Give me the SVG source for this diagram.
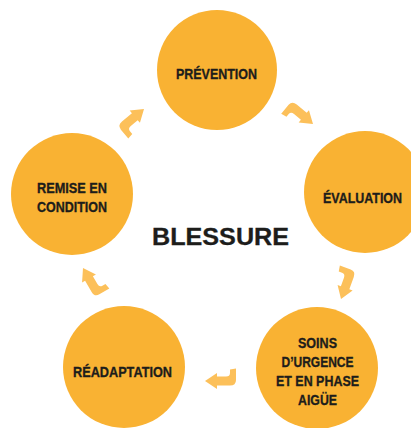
<svg xmlns="http://www.w3.org/2000/svg" width="411" height="428" viewBox="0 0 411 428">
<style>
.node circle { fill: #F9B233; }
.lbl { font-family: "Liberation Sans", Arial, sans-serif; font-weight: bold; font-size: 15.5px; fill: #1d1d1b; stroke: #1d1d1b; stroke-width: 0.35; text-anchor: middle; }
.title { font-family: "Liberation Sans", Arial, sans-serif; font-weight: bold; font-size: 23px; fill: #1d1d1b; stroke: #1d1d1b; stroke-width: 0.3; text-anchor: middle; }
.arrow { fill: #FCC05A; }
</style>
<defs>
<path id="arr" d="M0,0 L12,-8 L12,-4.5 L21,-4.5 Q25,-4.5 25,-8 L25,-11.5 L31,-12.5 L31,-1 Q31,4.5 25,4.5 L12,4.5 L12,8 Z"/>
</defs>
<rect width="411" height="428" fill="#ffffff"/>
<g id="connectors">
<use href="#arr" class="arrow" transform="translate(313,124) rotate(-140)"/>
<use href="#arr" class="arrow" transform="translate(341,299) rotate(-70)"/>
<use href="#arr" class="arrow" transform="translate(205,381)"/>
<use href="#arr" class="arrow" transform="translate(83,268) rotate(60)"/>
<use href="#arr" class="arrow" transform="translate(144,109) rotate(140)"/>
</g>
<g id="prevention" class="node">
<circle cx="217" cy="70" r="60"/>
<text class="lbl" x="216.5" y="79" textLength="81" lengthAdjust="spacingAndGlyphs">PRÉVENTION</text>
</g>
<g id="evaluation" class="node">
<circle cx="365" cy="192" r="61"/>
<text class="lbl" x="362.5" y="203" textLength="79" lengthAdjust="spacingAndGlyphs">ÉVALUATION</text>
</g>
<g id="soins" class="node">
<circle cx="317" cy="368" r="61"/>
<text class="lbl" x="317.5" y="348" textLength="39" lengthAdjust="spacingAndGlyphs">SOINS</text>
<text class="lbl" x="317.5" y="367" textLength="72" lengthAdjust="spacingAndGlyphs">D’URGENCE</text>
<text class="lbl" x="317.5" y="386" textLength="83" lengthAdjust="spacingAndGlyphs">ET EN PHASE</text>
<text class="lbl" x="317.5" y="405" textLength="39" lengthAdjust="spacingAndGlyphs">AIGÜE</text>
</g>
<g id="readaptation" class="node">
<circle cx="124" cy="367" r="61"/>
<text class="lbl" x="122.5" y="377" textLength="99" lengthAdjust="spacingAndGlyphs">RÉADAPTATION</text>
</g>
<g id="remise" class="node">
<circle cx="72" cy="194" r="61"/>
<text class="lbl" x="72" y="193" textLength="70" lengthAdjust="spacingAndGlyphs">REMISE EN</text>
<text class="lbl" x="72" y="212" textLength="70" lengthAdjust="spacingAndGlyphs">CONDITION</text>
</g>
<g id="blessure">
<text class="title" x="220.5" y="245" textLength="137" lengthAdjust="spacingAndGlyphs">BLESSURE</text>
</g>
</svg>
